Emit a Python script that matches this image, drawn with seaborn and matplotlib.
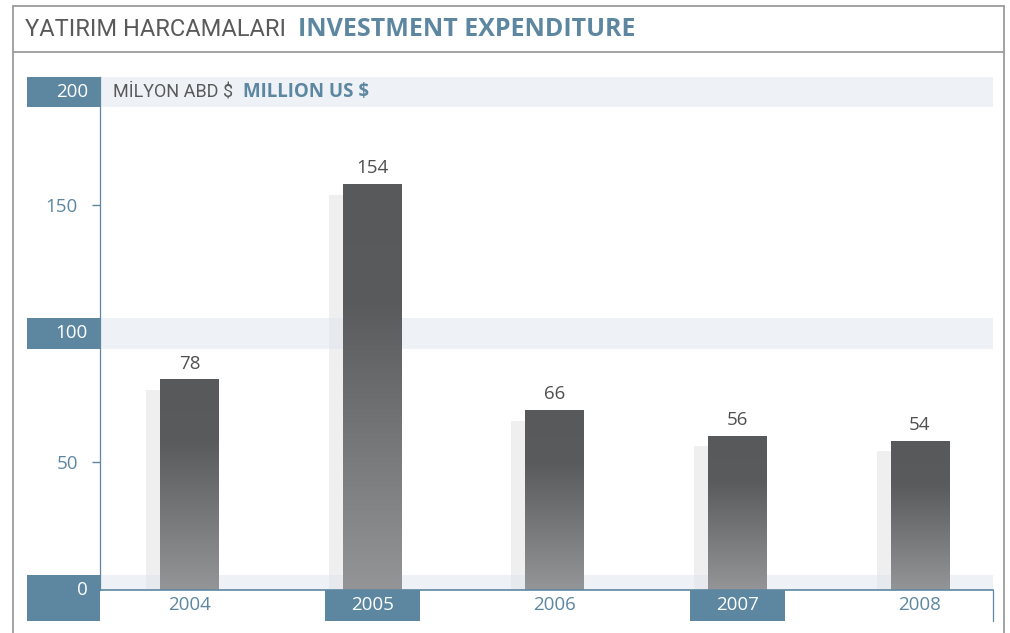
import numpy as np
import matplotlib.pyplot as plt
import seaborn as sns
from matplotlib.patches import Rectangle
from matplotlib.lines import Line2D
from matplotlib.colors import LinearSegmentedColormap
import matplotlib.transforms as mtransforms

YEARS = ["2004", "2005", "2006", "2007", "2008"]
VALUES = [78, 154, 66, 56, 54]
HIGHLIGHT_YEARS = ["2005", "2007"]
BOXED_TICKS = [0, 100, 200]
PLAIN_TICKS = [50, 150]

TITLE_TR = "YATIRIM HARCAMALARI"
TITLE_EN = "INVESTMENT EXPENDITURE"
UNIT_TR = "MİLYON ABD $"
UNIT_EN = "MILLION US $"

BLUE = "#5d87a1"
BAND = "#dfe7ee"
SHADOW = "#efefef"
FRAME = "#9c9c9c"
TEXT_GREY = "#505050"
LIGHT_FONT = ["Roboto", "DejaVu Sans"]
BOLD_FONT = ["Open Sans", "DejaVu Sans"]
NUM_FONT = ["Open Sans", "DejaVu Sans"]

W, H = 1010, 633
DEPTH = 4          # fake 3d lift of the front bar
BAND_H = 12        # height of the light bands / label boxes in data units
BAR_W = 0.32
SHIFT = 0.077      # shadow bar offset to the left
NUM_SIZE = 13.5

sns.set_theme(style="white")
plt.rcParams["font.family"] = NUM_FONT


def fig_box(x0, y0, x1, y1):
    # pixel box (top-left origin) -> figure fraction rect
    return [x0 / W, 1 - y1 / H, (x1 - x0) / W, (y1 - y0) / H]


def main():
    fig = plt.figure(figsize=(W / 100, H / 100), dpi=100)

    # outer frame and title box
    frame = dict(color=FRAME, lw=1.3, transform=fig.transFigure)
    fig.add_artist(Line2D([13 / W, 1004 / W], [1 - 6 / H, 1 - 6 / H], **frame))
    fig.add_artist(Line2D([13 / W, 1004 / W], [1 - 52 / H, 1 - 52 / H], **frame))
    fig.add_artist(Line2D([13 / W, 13 / W], [0, 1 - 6 / H], **frame))
    fig.add_artist(Line2D([1004 / W, 1004 / W], [0, 1 - 6 / H], **frame))

    t1 = fig.text(25 / W, 1 - 29 / H, TITLE_TR, family=LIGHT_FONT,
                  fontsize=17, color="#5a5a5a", va="center", ha="left")
    fig.canvas.draw()
    bb = t1.get_window_extent()
    fig.text((bb.x1 + 12) / W, 1 - 29 / H, TITLE_EN, family=BOLD_FONT,
             fontsize=18, fontweight="bold", color=BLUE, va="center", ha="left")

    ax = fig.add_axes(fig_box(100, 76.5, 993, 590))

    # shadow bars behind
    sns.barplot(x=YEARS, y=VALUES, color=SHADOW, width=BAR_W, saturation=1,
                ax=ax, zorder=1)
    for p in ax.containers[-1]:
        p.set_x(p.get_x() - SHIFT)
        p.set_edgecolor("none")

    # light bands
    for v in BOXED_TICKS:
        lo, hi = v - BAND_H / 2, v + BAND_H / 2
        if hi > 200:
            lo, hi = 200 - BAND_H, 200
        ax.axhspan(max(lo, 0), hi, color=BAND, alpha=0.5, lw=0, zorder=1.5)

    # front bars with gradient
    front = [v + DEPTH for v in VALUES]
    sns.barplot(x=YEARS, y=front, color="#58595b", width=BAR_W, saturation=1,
                ax=ax, zorder=2)
    cmap = LinearSegmentedColormap.from_list(
        "bar", [(0, "#58595b"), (0.3, "#5a5b5d"), (1, "#949597")])
    grad = np.linspace(0, 1, 256).reshape(-1, 1)
    for p in ax.containers[-1]:
        p.set_edgecolor("none")
        x0, y0 = p.get_x(), p.get_y()
        im = ax.imshow(grad, cmap=cmap, aspect="auto", zorder=2.1,
                       extent=[x0, x0 + p.get_width(), y0, y0 + p.get_height()],
                       origin="upper")
        im.set_clip_path(p)
    ax.set_xlim(-0.49, 4.4)
    ax.set_ylim(0, 200)

    for i, v in enumerate(VALUES):
        ax.annotate(str(v), (i, v + DEPTH), xytext=(0, 5), textcoords="offset points",
                    ha="center", va="bottom", fontsize=NUM_SIZE, color=TEXT_GREY)

    # axes styling
    for s in ["top", "right"]:
        ax.spines[s].set_visible(False)
    ax.spines["left"].set_color(BLUE)
    ax.spines["left"].set_linewidth(0.9)
    ax.spines["bottom"].set_color(BLUE)
    ax.spines["bottom"].set_linewidth(1.2)
    ax.set_yticks(PLAIN_TICKS)
    ax.set_yticklabels([str(t) for t in PLAIN_TICKS])
    ax.tick_params(axis="y", length=6, width=1, color=BLUE, labelcolor=BLUE,
                   labelsize=NUM_SIZE, pad=10, left=True, direction="out")
    ax.set_xticks([])
    ax.set_xlabel("")
    ax.set_ylabel("")

    # boxed y labels
    yblend = mtransforms.blended_transform_factory(ax.transAxes, ax.transData)
    box_w = 73 / 893
    for v in BOXED_TICKS:
        lo, hi = v - BAND_H / 2, v + BAND_H / 2
        ty = v
        if hi > 200:
            lo, hi = 200 - BAND_H, 200
            ty = v - BAND_H / 2
        if v == 0:
            lo = -BAND_H
        ax.add_patch(Rectangle((-box_w, lo), box_w, hi - lo, transform=yblend,
                               color=BLUE, lw=0, clip_on=False, zorder=3))
        ax.text(-12 / 893, ty, str(v), transform=yblend, ha="right", va="center",
                color="white", fontsize=NUM_SIZE, zorder=4)

    # unit label
    u1 = ax.text(13 / 893, 200 - BAND_H / 2, UNIT_TR, transform=yblend,
                 family=LIGHT_FONT, fontsize=13, color="#5a5a5a",
                 va="center", ha="left")
    fig.canvas.draw()
    ub = u1.get_window_extent()
    fig.text((ub.x1 + 10) / W, (ub.y0 + ub.height / 2) / H, UNIT_EN,
             family=BOLD_FONT, fontsize=13.5, fontweight="bold",
             color=BLUE, va="center", ha="left")

    # year labels row
    for i, y in enumerate(YEARS):
        hl = y in HIGHLIGHT_YEARS
        if hl:
            ax.add_patch(Rectangle((i - 0.26, -BAND_H), 0.52, BAND_H, color=BLUE,
                                   lw=0, clip_on=False, zorder=3))
        ax.text(i, -BAND_H / 2, y, ha="center", va="center", fontsize=NUM_SIZE,
                color="white" if hl else BLUE, zorder=4, clip_on=False)
    ax.plot([4.4, 4.4], [-BAND_H, 0], color=BLUE, lw=0.9, clip_on=False)

    fig.savefig("out.png", dpi=100)


if __name__ == "__main__":
    main()
